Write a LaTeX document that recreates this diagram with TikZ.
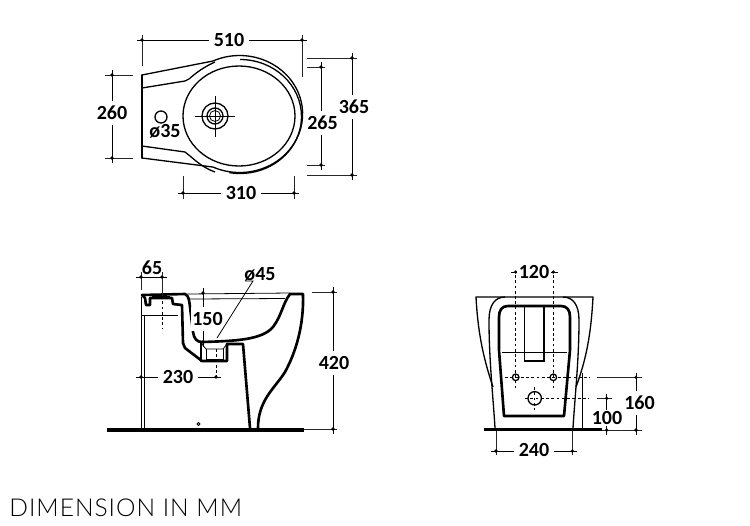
\documentclass[tikz,border=0pt]{standalone}
\usepackage{fontspec}
\setmainfont{Carlito}
\newfontfamily\titlefont[LetterSpace=4]{Lato Light}
\tikzset{
  outline/.style={line width=1.5pt, line join=round, line cap=round},
  midline/.style={line width=0.9pt},
  fineline/.style={line width=0.45pt},
  bodyline/.style={line width=0.75pt, line join=round},
  extline/.style={line width=0.45pt, black!85},
  dimline/.style={line width=0.45pt, shorten >=-2.6pt, shorten <=-2.6pt},
  dashline/.style={line width=0.55pt, dash pattern=on 1.6pt off 1.4pt},
  dimlabel/.style={font=\bfseries\fontsize{11.4}{13}\selectfont, fill=white, inner xsep=2.5pt, inner ysep=1.5pt},
}
\begin{document}
\begin{tikzpicture}[x=0.02cm, y=-0.02cm]
   \useasboundingbox (0,0) rectangle (750,525);
   % Top view
   \draw[outline, line width=1.1pt] (142,75) -- (142,158);
   \draw[bodyline] (142,75) -- (213,61) arc[start angle=-115, end angle=115, x radius=63, y radius=58.5] -- (142,158);
   \draw[bodyline] (240,59.5) arc[start angle=-90, end angle=100, x radius=61.5, y radius=57];
   \draw[bodyline] (142,88) -- (185,81) -- (189,79) .. controls (197,72) and (204,67) .. (215,62);
   \draw[bodyline] (142,146) -- (185,152) -- (190,156) .. controls (197,162) and (204,168) .. (215,172);
   \draw[bodyline] (239,116) ellipse[x radius=56, y radius=50];
   % Tap hole
   \draw[bodyline] (215,116) circle[radius=13];
   \draw[bodyline] (215,116) circle[radius=8];
   \draw[fineline] (215,116) circle[radius=5.5];
   \draw[fineline] (195,116) -- (235,116);
   \draw[fineline] (215,96) -- (215,137);
   \draw[bodyline] (161,117) circle[radius=6];
   % Side view
   \draw[outline] (142,295) -- (145,298) -- (146,305) -- (150,305) -- (150,298) -- (172,298) -- (173,304) -- (182,305)
      -- (183,343) -- (185,348) -- (202,361) -- (227,361) -- (227,344) -- (243,344) -- (250,428);
   \draw[outline] (142,295) -- (185,294) .. controls (189,296) and (189,300) .. (190,307) -- (193,332)
      .. controls (194,339) and (197,342) .. (202,342) .. controls (235,341) and (262,340) .. (273,327)
      .. controls (282,315) and (282,305) .. (290,294) -- (303,294)
      .. controls (304,325) and (296,352) .. (285,372) .. controls (275,388) and (258,400) .. (258,428);
   \draw[outline] (201,342) -- (201,361);
   \draw[fineline] (187,294) -- (290,293);
   \draw[fineline] (190,299) -- (285,298.5);
   \draw[fineline] (142,315) -- (178,315);
   \draw[fineline] (141,297) -- (141,429);
   \draw[fineline] (144,315) -- (144,429);
   \draw[fineline] (152,296.5) -- (170,296.5);
   \draw[fineline] (201,343) -- (206,349) -- (223,349) -- (227,344);
   \draw[fineline] (206,349) -- (206,359) -- (223,359) -- (223,349);
   \draw[fineline] (198.5,424) circle[radius=1.5];
   \draw[line width=1.9pt] (107,430) -- (304,430);
   \draw[dashline] (162,296) -- (162,329);
   \draw[dashline] (216,349) -- (216,377);
   % Front view
   \draw[bodyline] (493,387) .. controls (484,360) and (478,335) .. (476,297) -- (593,297)
      .. controls (591,335) and (586,360) .. (576,387);
   \draw[bodyline] (495,428) .. controls (493,395) and (489,360) .. (489,320) .. controls (489,305) and (495,297) .. (505,297);
   \draw[bodyline] (573,428) .. controls (575,395) and (579,360) .. (579,320) .. controls (579,305) and (573,297) .. (563,297);
   \draw[outline] (508,306) -- (561,306) .. controls (567,306) and (570,310) .. (570,317) -- (570,350) -- (564,416)
      -- (504,416) -- (499,350) -- (499,317) .. controls (499,310) and (502,306) .. (508,306) -- cycle;
   \draw[fineline] (501.7,352) -- (567,352);
   \draw[midline] (524.3,306) -- (524.3,361) -- (544,361) -- (544,306);
   \foreach \holex in {515.7,553.3} {
      \draw[bodyline] (\holex,377.3) circle[radius=3.3];
      \draw[dashline] (\holex,275) -- (\holex,388);
   }
   \draw[bodyline] (534.7,398.3) circle[radius=6.7];
   \draw[dashline] (534.7,387) -- (534.7,410);
   \draw[dashline] (505,377.3) -- (590,377.3);
   \draw[dashline] (525,398.3) -- (589,398.3);
   \draw[fineline] (582.7,373) -- (582.7,428);
   \draw[line width=1.9pt] (483.5,429.5) -- (601.7,429.5);
   % Dimension ends
   \coordinate (t510a) at (142,40);   \coordinate (t510b) at (302,40);
   \coordinate (t260a) at (112,75);   \coordinate (t260b) at (112,158);
   \coordinate (t365a) at (352,58);   \coordinate (t365b) at (352,175);
   \coordinate (t265a) at (321,67);   \coordinate (t265b) at (321,165);
   \coordinate (t310a) at (183,193);  \coordinate (t310b) at (294,193);
   \coordinate (s65a) at (141,277);   \coordinate (s65b) at (162,277);
   \coordinate (s150a) at (203,293);  \coordinate (s150b) at (203,342);
   \coordinate (s230a) at (141,377);  \coordinate (s230b) at (216,377);
   \coordinate (s420a) at (333,292);  \coordinate (s420b) at (333,429);
   \coordinate (f120a) at (515.7,272); \coordinate (f120b) at (553.3,272);
   \coordinate (f160a) at (636,377.3); \coordinate (f160b) at (636,430);
   \coordinate (f100a) at (606.7,398.3); \coordinate (f100b) at (606.7,430);
   \coordinate (f240a) at (496,451);  \coordinate (f240b) at (572.3,451);
   % Extension lines
   \draw[extline] (142,35) -- (142,66);
   \draw[extline] (302,35) -- (302,77);
   \draw[extline] (105,75) -- (133,75);
   \draw[extline] (105,158) -- (133,158);
   \draw[extline] (307,58) -- (357,58);
   \draw[extline] (307,175) -- (357,175);
   \draw[extline] (307,67) -- (325,67);
   \draw[extline] (307,165) -- (325,165);
   \draw[extline] (183,176) -- (183,199);
   \draw[extline] (294,176) -- (294,199);
   \draw[extline] (141,272) -- (141,290);
   \draw[extline] (162,272) -- (162,296);
   \draw[extline] (203,289) -- (203,294);
   \draw[extline] (312,292) -- (337,292);
   \draw[extline] (304,429) -- (337,429);
   \draw[extline] (597,377.3) -- (642,377.3);
   \draw[extline] (597,398.3) -- (612,398.3);
   \draw[extline] (601.7,430) -- (642,430);
   \draw[extline] (496,431) -- (496,455);
   \draw[extline] (572.3,431) -- (572.3,455);
   % Dimension lines
   \foreach \dimname in {t510,t260,t365,t265,t310,s65,s150,s230,s420,f120,f160,f100,f240} {
      \draw[dimline] (\dimname a) -- (\dimname b);
      \fill (\dimname a) circle[radius=1.8];
      \fill (\dimname b) circle[radius=1.8];
   }
   % Labels
   \node[dimlabel] (lab510) at (229,40) {510};
   \node[dimlabel, inner ysep=3pt] (lab260) at (112,113) {260};
   \node[dimlabel, inner ysep=3pt, inner xsep=0.5pt] (lab265) at (322.5,123) {265};
   \node[dimlabel, inner ysep=3pt, inner xsep=0.5pt] (lab365) at (354,107) {365};
   \node[dimlabel] (lab310) at (241,193) {310};
   \node[dimlabel, fill=none] (labd35) at (165,131) {ø35};
   \node[dimlabel, fill=none] (lab65) at (152,268) {65};
   \node[dimlabel, inner xsep=0.5pt, inner ysep=3pt] (lab150) at (207.5,319) {150};
   \node[dimlabel, fill=none] (labd45) at (260,274) {ø45};
   \node[dimlabel] (lab230) at (178,377) {230};
   \node[dimlabel, inner ysep=3pt] (lab420) at (334,363) {420};
   \node[dimlabel, inner xsep=1pt] (lab120) at (534,272) {120};
   \node[dimlabel, inner ysep=1pt, inner xsep=0.5pt] (lab100) at (607,418) {100};
   \node[dimlabel, inner ysep=3pt, inner xsep=0.5pt] (lab160) at (639.5,403) {160};
   \node[dimlabel] (lab240) at (534,450) {240};
   % Leader of the waste outlet
   \draw[fineline] (245,281) -- (253,281) -- (217,338);
   % Title
   \node[anchor=base west, inner sep=0pt, font=\titlefont\fontsize{14}{16}\selectfont] (title) at (9,516) {DIMENSION IN MM};
\end{tikzpicture}
\end{document}
